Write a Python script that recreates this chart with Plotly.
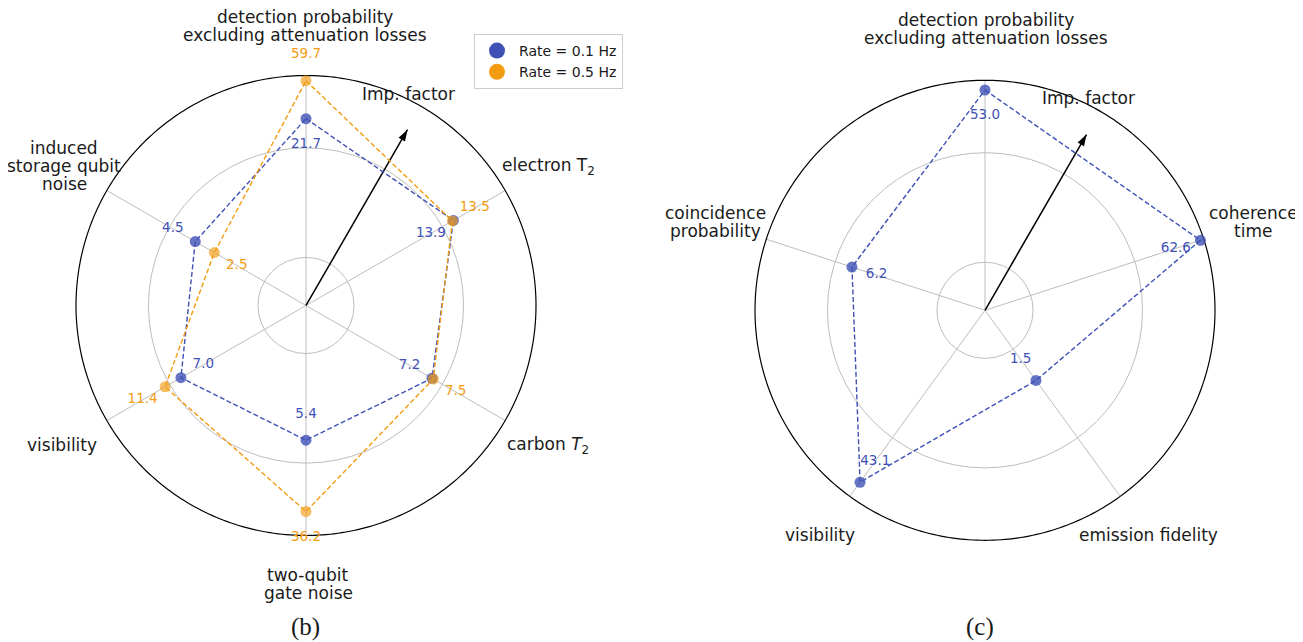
import numpy as np
import plotly.graph_objects as go

# ---------------- data ----------------
LEFT_CATS = ["detection probability<br>excluding attenuation losses", "electron T<sub>2</sub>",
             "carbon <i>T</i><sub>2</sub>", "two-qubit<br>gate noise", "visibility",
             "induced<br>storage qubit<br>noise"]
LEFT_RATE_01 = [21.7, 13.9, 7.2, 5.4, 7.0, 4.5]
LEFT_RATE_05 = [59.7, 13.5, 7.5, 36.2, 11.4, 2.5]

RIGHT_CATS = ["detection probability<br>excluding attenuation losses", "coherence<br>time",
              "emission fidelity", "visibility", "coincidence<br>probability"]
RIGHT_RATE_01 = [53.0, 62.6, 1.5, 43.1, 6.2]

SERIES_NAMES = ["Rate = 0.1 Hz", "Rate = 0.5 Hz"]

# ---------------- styles / layout ----------------
W, H = 1303, 642          # reference canvas
OFF = 8                   # page body margin
FIG_W, FIG_H = W - OFF, H - OFF
BLUE = "#3F51B5"
ORANGE = "#F39C12"
GRID = "#BDBDBD"
FONT = "DejaVu Sans"
LOG_MIN = -0.8285            # log10 value at centre
LOG_FRAME = 1.8366           # log10 value at the black outer circle
LOG_MAX = 2.2                # extended range so outer labels are drawn
PX_PER_DECADE = 86.3
GRID_VALS = [0.535, 9.93]
LABEL_SHIFT = 0.3            # log10 offset of value labels
ARROW_R = 33.4
ARROW_THETA = 30
LINE_GAP = 18                # px between lines of multi-line labels

LEFT_BLUE_DIR = [-1, -1, -1, -1, -1, 1]
LEFT_ORANGE_DIR = [1, 1, 1, 1, 1, -1]
RIGHT_BLUE_DIR = [-1, -1, -1, -1, -1]

# label pixel centres (text placement, reference-canvas pixels)
LEFT_LABEL_PX = [(305, 26), (548, 166), (548, 445), (308, 584), (62, 445), (64, 166)]
RIGHT_LABEL_PX = [(986, 29), (1253, 222), (1148, 535), (820, 535), (716, 222)]


def px(x, y):
    return (x - OFF) / FIG_W, 1 - (y - OFF) / FIG_H


fig = go.Figure()
R0 = 10 ** (LOG_MIN + 0.0005)
RF = 10 ** LOG_FRAME


def add_frame(thetas, subplot):
    for t in thetas:
        fig.add_trace(go.Scatterpolar(
            r=[R0, RF], theta=[t, t], mode="lines", subplot=subplot,
            line=dict(color=GRID, width=1), showlegend=False, hoverinfo="skip"))
    circ = np.linspace(0, 360, 361)
    fig.add_trace(go.Scatterpolar(
        r=[RF] * len(circ), theta=circ, mode="lines", subplot=subplot,
        line=dict(color="black", width=1.2), showlegend=False, hoverinfo="skip"))


def add_series(thetas, vals, dirs, color, subplot, marker_opacity):
    vals = list(vals)
    th = list(thetas)
    fig.add_trace(go.Scatterpolar(
        r=vals + vals[:1], theta=th + th[:1], mode="lines", subplot=subplot,
        line=dict(color=color, width=1.4, dash="5px,2.5px"), showlegend=False, hoverinfo="skip"))
    fig.add_trace(go.Scatterpolar(
        r=vals, theta=th, mode="markers", subplot=subplot,
        marker=dict(color=color, size=11, opacity=marker_opacity, line=dict(width=0)),
        showlegend=False))
    lab_r = [v * 10 ** (d * LABEL_SHIFT) for v, d in zip(vals, dirs)]
    fig.add_trace(go.Scatterpolar(
        r=lab_r, theta=th, mode="text", subplot=subplot,
        text=[f"{v:.1f}" for v in vals], textposition="middle center",
        textfont=dict(color=color, size=13.5, family=FONT), showlegend=False, hoverinfo="skip"))


def add_arrow(subplot):
    fig.add_trace(go.Scatterpolar(
        r=[R0, ARROW_R], theta=[ARROW_THETA, ARROW_THETA], mode="lines", subplot=subplot,
        line=dict(color="black", width=1.5), showlegend=False, hoverinfo="skip"))
    fig.add_trace(go.Scatterpolar(
        r=[ARROW_R], theta=[ARROW_THETA], mode="markers", subplot=subplot,
        marker=dict(symbol="arrow", size=12, angle=ARROW_THETA, color="black"),
        showlegend=False, hoverinfo="skip"))


left_theta = list(np.arange(len(LEFT_CATS)) * 360 / len(LEFT_CATS))
right_theta = list(np.arange(len(RIGHT_CATS)) * 360 / len(RIGHT_CATS))

add_frame(left_theta, "polar")
add_arrow("polar")
add_series(left_theta, LEFT_RATE_01, LEFT_BLUE_DIR, BLUE, "polar", 0.8)
add_series(left_theta, LEFT_RATE_05, LEFT_ORANGE_DIR, ORANGE, "polar", 0.65)

add_frame(right_theta, "polar2")
add_arrow("polar2")
add_series(right_theta, RIGHT_RATE_01, RIGHT_BLUE_DIR, BLUE, "polar2", 0.8)

for name, color in zip(SERIES_NAMES, [BLUE, ORANGE]):
    fig.add_trace(go.Scatterpolar(r=[None], theta=[None], mode="markers", name=name,
                                  subplot="polar", marker=dict(color=color, size=16)))


def polar_layout(cx, cy):
    R = (LOG_MAX - LOG_MIN) * PX_PER_DECADE
    x0, y0 = px(cx - R, cy + R)
    x1, y1 = px(cx + R, cy - R)
    return dict(
        domain=dict(x=[x0, x1], y=[y0, y1]),
        bgcolor="rgba(0,0,0,0)",
        radialaxis=dict(type="log", range=[LOG_MIN, LOG_MAX], tickvals=GRID_VALS,
                        showticklabels=False, ticks="", showline=False,
                        gridcolor=GRID, gridwidth=1),
        angularaxis=dict(rotation=90, direction="clockwise", showgrid=False,
                         showticklabels=False, ticks="", showline=False),
    )


annotations = []
for txt, (x, y) in list(zip(LEFT_CATS, LEFT_LABEL_PX)) + list(zip(RIGHT_CATS, RIGHT_LABEL_PX)):
    lines = txt.split("<br>")
    n = len(lines)
    for i, line in enumerate(lines):
        ax_, ay_ = px(x, y + (i - (n - 1) / 2) * LINE_GAP)
        annotations.append(dict(x=ax_, y=ay_, xref="paper", yref="paper", text=line, showarrow=False,
                                xanchor="center", yanchor="middle", align="center",
                                font=dict(family=FONT, size=17, color="#1a1a1a")))
for (x, y) in [(408, 94), (1088, 98)]:
    ax_, ay_ = px(x, y)
    annotations.append(dict(x=ax_, y=ay_, xref="paper", yref="paper", text="Imp. factor",
                            showarrow=False, xanchor="center", yanchor="middle",
                            font=dict(family=FONT, size=17, color="#1a1a1a")))
for txt, (x, y) in [("(b)", (305, 627)), ("(c)", (980, 627))]:
    ax_, ay_ = px(x, y)
    annotations.append(dict(x=ax_, y=ay_, xref="paper", yref="paper", text=txt, showarrow=False,
                            xanchor="center", yanchor="middle",
                            font=dict(family="Liberation Serif", size=25, color="#1a1a1a")))

lx, ly = px(474, 34)
fig.update_layout(
    width=FIG_W, height=FIG_H,
    margin=dict(l=0, r=0, t=0, b=0),
    paper_bgcolor="white",
    polar=polar_layout(306, 305.5),
    polar2=polar_layout(985, 310.3),
    annotations=annotations,
    showlegend=True,
    legend=dict(x=lx, y=ly, xanchor="left", yanchor="top", bgcolor="white",
                bordercolor="#CCCCCC", borderwidth=1, font=dict(family=FONT, size=14, color="#1a1a1a"),
                itemsizing="trace", itemwidth=34, tracegroupgap=0,
                entrywidth=150, entrywidthmode="pixels"),
    font=dict(family=FONT),
)

fig.write_html("out.html")
